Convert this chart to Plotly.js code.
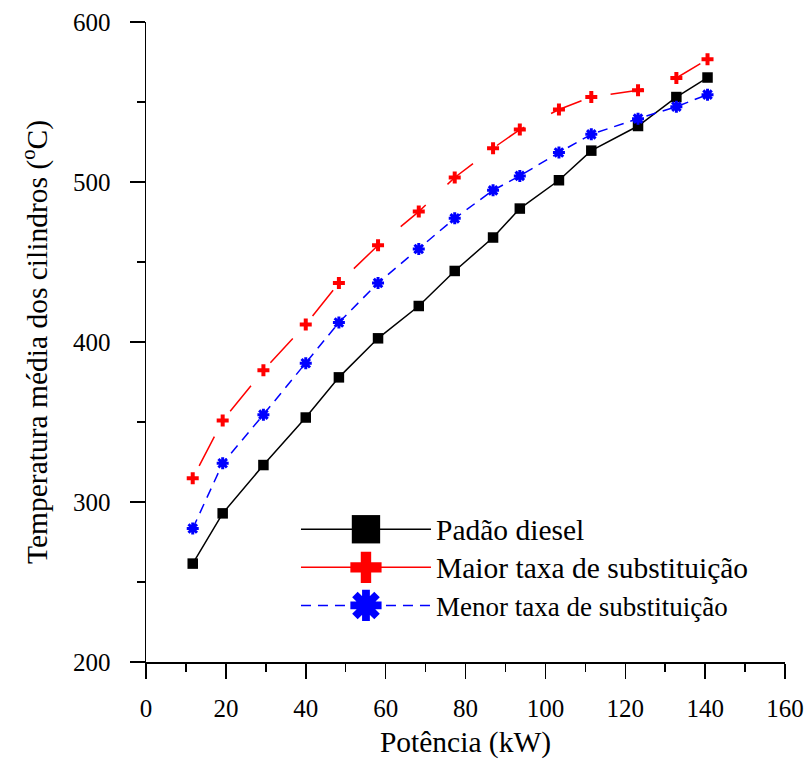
<!DOCTYPE html>
<html>
<head>
<meta charset="utf-8">
<script src="https://cdn.plot.ly/plotly-3.0.1.min.js"></script>
<style>html,body{margin:0;padding:0;background:#fff;}#chart{width:808px;height:760px;}</style>
</head>
<body>
<div id="chart"></div>
<script>
// Power (kW) – shared x positions
const potencia = [11.7, 19.2, 29.4, 40.0, 48.3, 58.1, 68.3, 77.3, 86.9, 93.6, 103.4, 111.5, 123.2, 132.8, 140.6];
// Mean cylinder temperature (°C)
const padraoDiesel = [261.5, 292.9, 323.1, 352.8, 377.9, 402.3, 422.5, 444.4, 465.3, 483.4, 501.1, 519.6, 535.0, 553.1, 565.3];
const maiorTaxa    = [314.8, 350.9, 382.3, 410.9, 436.9, 460.4, 481.5, 502.8, 521.1, 532.8, 545.3, 553.1, 557.3, 565.0, 576.7];
const menorTaxa    = [283.4, 324.2, 354.6, 386.7, 412.2, 436.9, 458.1, 477.3, 494.8, 503.8, 518.4, 529.8, 539.6, 547.1, 554.6];
const seriesNames = ['Padão diesel', 'Maior taxa de substituição', 'Menor taxa de substituição'];

const FONT = '"Liberation Serif", "Times New Roman", serif';

const traces = [
  {
    x: potencia, y: padraoDiesel, name: seriesNames[0], type: 'scatter', mode: 'lines+markers',
    line: {color: '#000000', width: 1.5},
    marker: {symbol: 'square', size: 10.5, color: '#000000'}
  },
  {
    x: potencia, y: maiorTaxa, name: seriesNames[1], type: 'scatter', mode: 'lines+markers',
    line: {color: '#ff0000', width: 1.5, dash: '0px,14px,33px,16px'},
    marker: {symbol: 'cross', size: 10, color: '#ff0000'}
  },
  {
    x: potencia, y: menorTaxa, name: seriesNames[2], type: 'scatter', mode: 'lines+markers',
    line: {color: '#0000ff', width: 1.5, dash: '10px,7px'},
    marker: {symbol: 'asterisk', size: 10, color: '#0000ff', line: {color: '#0000ff', width: 3}}
  }
];

const layout = {
  width: 808, height: 760,
  margin: {l: 146, r: 23, t: 22, b: 98},
  paper_bgcolor: '#ffffff', plot_bgcolor: '#ffffff',
  font: {family: FONT, color: '#000000', size: 25},
  showlegend: true,
  legend: {
    x: 0.2347, y: 0.245, xanchor: 'left', yanchor: 'top',
    bgcolor: 'rgba(0,0,0,0)', borderwidth: 0,
    font: {family: FONT, size: 27, color: '#000000'},
    itemwidth: 130, tracegroupgap: 0
  },
  xaxis: {
    range: [0, 160], tickmode: 'linear', tick0: 0, dtick: 20,
    showline: true, linecolor: '#000', linewidth: 1.5, mirror: false,
    ticks: 'outside', ticklen: 15, tickwidth: 1.5, tickcolor: '#000',
    minor: {dtick: 10, ticks: 'outside', ticklen: 8, tickwidth: 1.5, tickcolor: '#000'},
    showgrid: false, zeroline: false,
    tickfont: {family: FONT, size: 25, color: '#000'},
    ticklabelstandoff: 8,
    title: {text: 'Potência (kW)', font: {family: FONT, size: 29.5, color: '#000'}, standoff: 11},
    automargin: false
  },
  yaxis: {
    range: [200, 600], tickmode: 'linear', tick0: 200, dtick: 100,
    showline: true, linecolor: '#000', linewidth: 1.5, mirror: false,
    ticks: 'outside', ticklen: 15, tickwidth: 1.5, tickcolor: '#000',
    minor: {dtick: 50, ticks: 'outside', ticklen: 8, tickwidth: 1.5, tickcolor: '#000'},
    showgrid: false, zeroline: false,
    tickfont: {family: FONT, size: 25, color: '#000'},
    ticklabelstandoff: 14,
    title: {text: 'Temperatura média dos cilindros (<sup>o</sup>C)', font: {family: FONT, size: 29.5, color: '#000'}, standoff: 16},
    automargin: false
  }
};

Plotly.newPlot('chart', traces, layout, {displayModeBar: false, staticPlot: true}).then(function (gd) {
  // let the slightly enlarged legend texts overflow the legend's computed box
  gd.querySelectorAll('.legend .scrollbox, .legend').forEach(function (el) {
    el.removeAttribute('clip-path');
    el.style.clipPath = 'none';
  });
  const traceGroups = gd.querySelectorAll('.legend .traces');
  const scales = [2.7, 2.6, 2.6];
  const textSizes = ['29.5px', '29.5px', '27px'];
  traceGroups.forEach(function (g, i) {
    // enlarge legend symbols to the reference's size
    g.querySelectorAll('.legendpoints path.scatterpts').forEach(function (p) {
      const t = p.getAttribute('transform') || '';
      p.setAttribute('transform', t + ' scale(' + scales[i] + ')');
    });
    const txt = g.querySelector('text.legendtext');
    if (txt) txt.style.fontSize = textSizes[i];
    // the reference's legend sample for the red series is drawn solid
    if (i === 1) {
      g.querySelectorAll('.legendlines path').forEach(function (p) { p.style.strokeDasharray = 'none'; });
    }
  });
});
</script>
</body>
</html>
